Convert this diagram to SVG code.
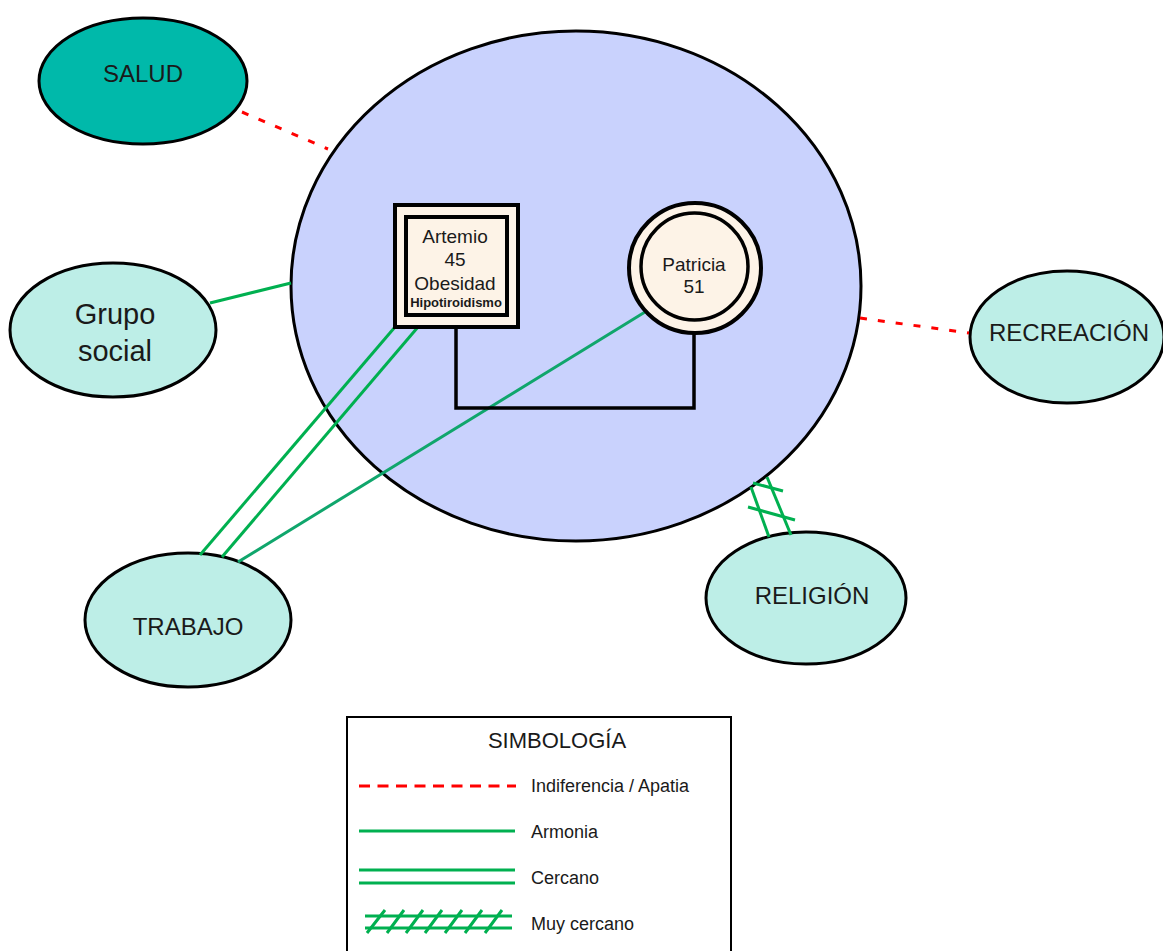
<svg xmlns="http://www.w3.org/2000/svg" width="1163" height="951" viewBox="0 0 1163 951">
<style>
text{font-family:"Liberation Sans",Arial,sans-serif;fill:#1a1a1a;text-anchor:middle}
.sat{fill:#bdeee7;stroke:#000;stroke-width:3}
.lbl{font-size:24px}
.g{stroke:#00b050;stroke-width:3;fill:none}
.a{stroke:#10a66c;stroke-width:3;fill:none}
.r{stroke:#ff0000;stroke-width:3;stroke-dasharray:7 11;fill:none}
.k{stroke:#000;stroke-width:3.5;fill:none}
.node{fill:#fdf3e7;stroke:#000;stroke-width:4}
.leg{font-size:18px;text-anchor:start}
</style>
<rect width="1163" height="951" fill="#fff"/>
<g id="familia">
<ellipse cx="576" cy="286" rx="285" ry="255" fill="#c9d2fd" stroke="#000" stroke-width="3"/>
</g>
<g id="salud">
<ellipse cx="143" cy="81" rx="104" ry="63" fill="#00b9aa" stroke="#000" stroke-width="3"/>
<text class="lbl" x="143" y="82">SALUD</text>
</g>
<g id="grupo-social">
<ellipse class="sat" cx="113" cy="330" rx="103" ry="67"/>
<text x="115" y="324" font-size="29">Grupo</text>
<text x="115" y="361" font-size="29">social</text>
</g>
<g id="recreacion">
<ellipse class="sat" cx="1067" cy="337" rx="97" ry="66"/>
<text class="lbl" x="1069" y="341">RECREACIÓN</text>
</g>
<g id="trabajo">
<ellipse class="sat" cx="188" cy="620" rx="103" ry="67"/>
<text class="lbl" x="188" y="635">TRABAJO</text>
</g>
<g id="religion">
<ellipse class="sat" cx="806" cy="598" rx="100" ry="66"/>
<text class="lbl" x="812" y="604">RELIGIÓN</text>
</g>
<g id="connectors">
<line class="r" x1="242" y1="112" x2="328" y2="149"/>
<line class="r" x1="860" y1="318" x2="969" y2="333"/>
<line class="g" x1="210" y1="303" x2="291" y2="283"/>
<line class="g" x1="395" y1="327" x2="200" y2="555"/>
<line class="g" x1="418" y1="327" x2="222" y2="557"/>
<line class="a" x1="645" y1="312" x2="238" y2="562"/>
<line class="g" x1="751" y1="487" x2="769" y2="537"/>
<line class="g" x1="767" y1="477" x2="791" y2="535"/>
<line class="g" x1="753" y1="483" x2="783" y2="491"/>
<line class="g" x1="748" y1="507" x2="795" y2="520"/>
<polyline class="k" points="456,327 456,408 694,408 694,333"/>
</g>
<g id="artemio">
<rect class="node" x="395" y="205" width="123" height="122"/>
<rect x="406" y="217" width="101" height="98" fill="none" stroke="#000" stroke-width="4"/>
<text x="455" y="243" font-size="19">Artemio</text>
<text x="455" y="266" font-size="19">45</text>
<text x="455" y="290" font-size="19">Obesidad</text>
<text x="456" y="307" font-size="13" font-weight="bold">Hipotiroidismo</text>
</g>
<g id="patricia">
<ellipse class="node" cx="695" cy="268" rx="66" ry="65" stroke-width="3.5"/>
<circle cx="694.5" cy="266.5" r="53.5" fill="none" stroke="#000" stroke-width="3.5"/>
<text x="694" y="271" font-size="19">Patricia</text>
<text x="694" y="293" font-size="19">51</text>
</g>
<g id="legend">
<rect x="347" y="717" width="384" height="260" fill="#fff" stroke="#000" stroke-width="2"/>
<text x="557" y="748" font-size="22">SIMBOLOGÍA</text>
<line class="r" x1="359" y1="786" x2="516" y2="786" style="stroke-dasharray:11 7.5"/>
<text class="leg" x="531" y="792">Indiferencia / Apatia</text>
<line class="g" x1="359" y1="831" x2="515" y2="831"/>
<text class="leg" x="531" y="838">Armonia</text>
<line class="g" x1="359" y1="870" x2="515" y2="870"/>
<line class="g" x1="359" y1="883" x2="515" y2="883"/>
<text class="leg" x="531" y="884">Cercano</text>
<line class="g" x1="365" y1="916" x2="512" y2="916"/>
<line class="g" x1="365" y1="928" x2="512" y2="928"/>
<path class="g" stroke-width="2.5" d="M367,933L385,910M387,933L404,910M406,933L423,910M425,933L442,910M445,933L462,910M465,933L482,910M485,933L502,910"/>
<text class="leg" x="531" y="930">Muy cercano</text>
</g>
</svg>
